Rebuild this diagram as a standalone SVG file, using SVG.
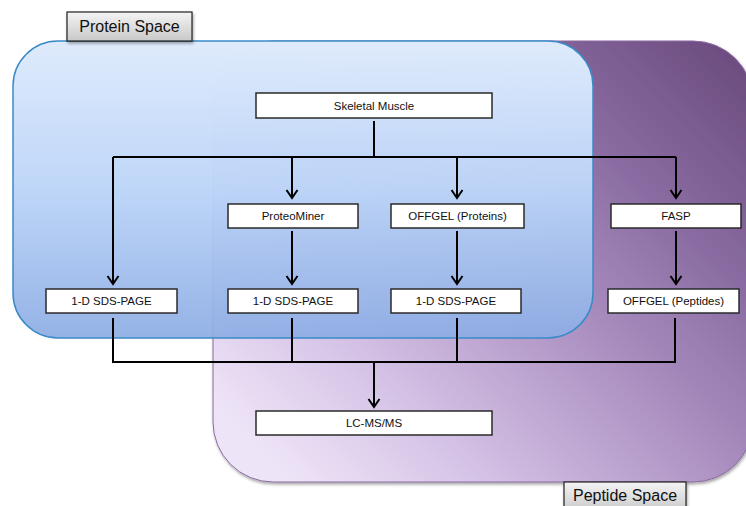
<svg xmlns="http://www.w3.org/2000/svg" width="746" height="506" viewBox="0 0 746 506">
  <defs>
    <linearGradient id="gPurple" gradientUnits="userSpaceOnUse" x1="760" y1="30" x2="300" y2="490">
      <stop offset="0" stop-color="#664578"/>
      <stop offset="0.3" stop-color="#8a6ca2"/>
      <stop offset="0.5" stop-color="#a98dbf"/>
      <stop offset="0.8" stop-color="#d6c4e7"/>
      <stop offset="1" stop-color="#eee4f7"/>
    </linearGradient>
    <linearGradient id="gBlue" x1="0" y1="0" x2="0" y2="1">
      <stop offset="0" stop-color="#dfebfc" stop-opacity="1"/>
      <stop offset="0.5" stop-color="#bcd5f8" stop-opacity="0.97"/>
      <stop offset="1" stop-color="#8cace4" stop-opacity="0.92"/>
    </linearGradient>
    <linearGradient id="gLabel" x1="0" y1="0" x2="0" y2="1">
      <stop offset="0" stop-color="#f4f4f4"/>
      <stop offset="1" stop-color="#c9c9c9"/>
    </linearGradient>
    <filter id="shadow" x="-10%" y="-10%" width="130%" height="140%">
      <feDropShadow dx="1" dy="2" stdDeviation="1.5" flood-color="#000" flood-opacity="0.35"/>
    </filter>
    <marker id="arrow" markerUnits="userSpaceOnUse" markerWidth="14" markerHeight="14" refX="0" refY="0" viewBox="-10 -7 12 14" orient="auto">
      <path d="M-8,-5.5 L0,0 L-8,5.5" fill="none" stroke="#000" stroke-width="2"/>
    </marker>
  </defs>
  <style>
    .node rect { fill: #ffffff; stroke: #2a2a2a; stroke-width: 1.5; }
    .node text { font-family: "Liberation Sans", Arial, sans-serif; font-size: 11.5px; fill: #111; text-anchor: middle; }
    .label rect { fill: url(#gLabel); stroke: #222; stroke-width: 1.2; filter: url(#shadow); }
    .label text { font-family: "Liberation Sans", Arial, sans-serif; font-size: 16px; fill: #111; text-anchor: middle; }
    #connectors path { fill: none; stroke: #000; stroke-width: 2; }
  </style>

  <!-- regions -->
  <g id="peptide-space-region">
    <rect x="213" y="41" width="540" height="441" rx="60" ry="60" fill="url(#gPurple)" stroke="#8a6aa0" stroke-width="1" filter="url(#shadow)"/>
  </g>
  <g id="protein-space-region">
    <rect x="13" y="41" width="580" height="297" rx="45" ry="45" fill="url(#gBlue)" stroke="#3a8ac8" stroke-width="1.5"/>
  </g>

  <g id="label-protein-space" class="label">
    <rect x="67" y="12" width="125" height="29"/>
    <text x="129.5" y="32">Protein Space</text>
  </g>
  <g id="label-peptide-space" class="label">
    <rect x="564" y="482" width="122" height="30"/>
    <text x="625" y="501">Peptide Space</text>
  </g>

  <g id="connectors">
    <path d="M374,121 V157"/>
    <path d="M113,157 H676"/>
    <path d="M113,157 V284" marker-end="url(#arrow)"/>
    <path d="M292,157 V198" marker-end="url(#arrow)"/>
    <path d="M457,157 V198" marker-end="url(#arrow)"/>
    <path d="M676,157 V198" marker-end="url(#arrow)"/>
    <path d="M292,231 V284" marker-end="url(#arrow)"/>
    <path d="M457,231 V284" marker-end="url(#arrow)"/>
    <path d="M676,231 V284" marker-end="url(#arrow)"/>
    <path d="M113,318 V362 H675 V318"/>
    <path d="M292,318 V362"/>
    <path d="M457,318 V362"/>
    <path d="M374,362 V407" marker-end="url(#arrow)"/>
  </g>

  <g id="node-skeletal-muscle" class="node">
    <rect x="256" y="93" width="236" height="25"/>
    <text x="374" y="109.5">Skeletal Muscle</text>
  </g>
  <g id="node-proteominer" class="node">
    <rect x="228" y="204" width="130" height="24"/>
    <text x="293" y="220">ProteoMiner</text>
  </g>
  <g id="node-offgel-proteins" class="node">
    <rect x="391" y="204" width="133" height="24"/>
    <text x="457.5" y="220">OFFGEL (Proteins)</text>
  </g>
  <g id="node-fasp" class="node">
    <rect x="611" y="204" width="130" height="24"/>
    <text x="676" y="220">FASP</text>
  </g>
  <g id="node-sds-1" class="node">
    <rect x="46" y="289" width="131" height="24"/>
    <text x="111.5" y="305">1-D SDS-PAGE</text>
  </g>
  <g id="node-sds-2" class="node">
    <rect x="228" y="289" width="130" height="24"/>
    <text x="293" y="305">1-D SDS-PAGE</text>
  </g>
  <g id="node-sds-3" class="node">
    <rect x="391" y="289" width="130" height="24"/>
    <text x="456" y="305">1-D SDS-PAGE</text>
  </g>
  <g id="node-offgel-peptides" class="node">
    <rect x="608" y="289" width="131" height="24"/>
    <text x="673.5" y="305">OFFGEL (Peptides)</text>
  </g>
  <g id="node-lcmsms" class="node">
    <rect x="256" y="411" width="236" height="24"/>
    <text x="374" y="427">LC-MS/MS</text>
  </g>
</svg>
